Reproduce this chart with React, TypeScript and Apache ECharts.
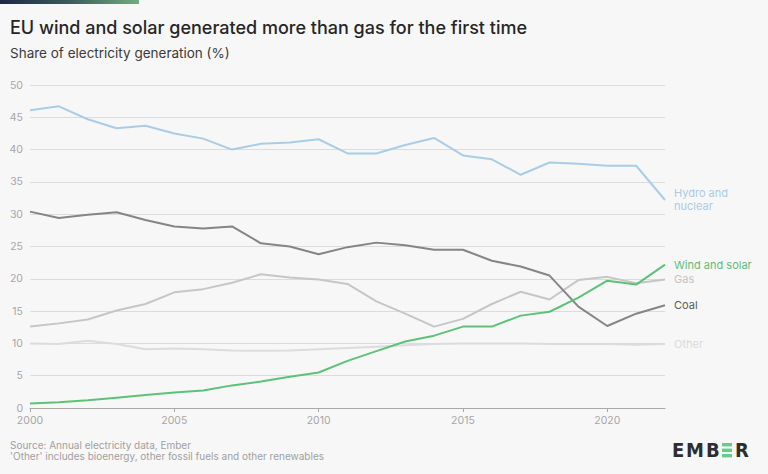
import React, { useEffect, useRef } from "react";
import * as echarts from "echarts";

const years = [
  "2000", "2001", "2002", "2003", "2004", "2005", "2006", "2007", "2008", "2009", "2010",
  "2011", "2012", "2013", "2014", "2015", "2016", "2017", "2018", "2019", "2020", "2021", "2022",
];

const hydroNuclear = [
  46.1, 46.7, 44.7, 43.3, 43.7, 42.5, 41.7, 40.0, 40.9, 41.1, 41.6,
  39.4, 39.4, 40.7, 41.8, 39.1, 38.5, 36.1, 38.0, 37.8, 37.5, 37.5, 32.2,
];
const coal = [
  30.4, 29.4, 29.9, 30.3, 29.1, 28.1, 27.8, 28.1, 25.5, 25.0, 23.8,
  24.9, 25.6, 25.2, 24.5, 24.5, 22.8, 21.9, 20.5, 15.7, 12.7, 14.6, 15.9,
];
const gas = [
  12.6, 13.1, 13.7, 15.1, 16.1, 17.9, 18.4, 19.4, 20.7, 20.2, 19.9,
  19.2, 16.5, 14.6, 12.6, 13.8, 16.1, 18.0, 16.8, 19.8, 20.3, 19.3, 19.9,
];
const other = [
  10.0, 9.9, 10.4, 9.9, 9.1, 9.2, 9.1, 8.9, 8.85, 8.9, 9.1,
  9.3, 9.5, 9.7, 9.9, 10.0, 10.0, 10.0, 9.9, 9.9, 9.9, 9.8, 9.9,
];
const windSolar = [
  0.7, 0.9, 1.2, 1.6, 2.0, 2.4, 2.7, 3.5, 4.1, 4.85, 5.5,
  7.3, 8.8, 10.3, 11.2, 12.6, 12.6, 14.3, 14.9, 17.1, 19.7, 19.1, 22.2,
];

const seriesNames = ["Hydro and\nnuclear", "Coal", "Gas", "Other", "Wind and solar"];
const seriesData = [hydroNuclear, coal, gas, other, windSolar];
const lineColors = ["#a9cde6", "#858585", "#c6c6c6", "#dcdcdc", "#5dc278"];
const labelColors = ["#a9cbe5", "#5a5a5a", "#c4c4c4", "#dadada", "#5bbf75"];

const FONT = "Inter, 'Noto Sans', sans-serif";
const LOGO_FONT = "800 20px 'DejaVu Sans Condensed', 'DejaVu Sans', sans-serif";

export default function App() {
  const ref = useRef<HTMLDivElement>(null);

  useEffect(() => {
    document.body.style.margin = "0";
    const chart = echarts.init(ref.current!, null, { renderer: "svg" });
    const order = [3, 2, 1, 0, 4];
    const logoLetter = (ch: string, x: number) => ({
      type: "text",
      left: x,
      top: 440,
      style: { text: ch, fill: "#2e2e2e", font: LOGO_FONT },
    });
    chart.setOption({
      animation: false,
      backgroundColor: "#f7f7f7",
      textStyle: { fontFamily: FONT },
      grid: { left: 30, right: 103, top: 85, bottom: 66, containLabel: false },
      xAxis: {
        type: "category",
        data: years,
        boundaryGap: false,
        axisLine: { lineStyle: { color: "#a8a8a8", width: 1 } },
        axisTick: { interval: 4, length: 4, lineStyle: { color: "#a8a8a8" } },
        axisLabel: { interval: 4, color: "#a6a6a6", fontSize: 10.5, margin: 7, fontFamily: FONT },
        splitLine: { show: false },
      },
      yAxis: {
        type: "value",
        min: 0,
        max: 50,
        interval: 5,
        axisLine: { show: false },
        axisTick: { show: false },
        axisLabel: { color: "#a6a6a6", fontSize: 10.5, margin: 7, fontFamily: FONT },
        splitLine: { lineStyle: { color: "#dcdcdc", width: 1 } },
      },
      series: order.map((i) => ({
        type: "line",
        name: seriesNames[i],
        data: seriesData[i],
        showSymbol: false,
        symbol: "none",
        z: 2 + order.indexOf(i),
        lineStyle: { color: lineColors[i], width: 2 },
        endLabel: {
          show: true,
          formatter: () => seriesNames[i],
          color: labelColors[i],
          fontSize: 11,
          lineHeight: 13,
          distance: 9,
          fontFamily: FONT,
        },
      })),
      graphic: [
        {
          type: "rect",
          left: 0,
          top: 0,
          shape: { width: 139, height: 4 },
          style: {
            fill: new echarts.graphic.LinearGradient(0, 0, 1, 0, [
              { offset: 0, color: "#1d2744" },
              { offset: 0.5, color: "#3b5c5a" },
              { offset: 1, color: "#72ac7f" },
            ]),
          },
        },
        {
          type: "text",
          left: 10,
          top: 18,
          style: {
            text: "EU wind and solar generated more than gas for the first time",
            fill: "#262626",
            font: `500 18px ${FONT}`,
          },
        },
        {
          type: "text",
          left: 10,
          top: 46,
          style: {
            text: "Share of electricity generation (%)",
            fill: "#3a3a3a",
            font: `400 13.5px ${FONT}`,
          },
        },
        {
          type: "text",
          left: 10,
          top: 439,
          style: {
            text: "Source: Annual electricity data, Ember\n'Other' includes bioenergy, other fossil fuels and other renewables",
            fill: "#a0a0a0",
            font: `400 10px ${FONT}`,
            lineHeight: 11,
          },
        },
        logoLetter("E", 672),
        logoLetter("M", 686),
        logoLetter("B", 706),
        { type: "rect", left: 722, top: 443, shape: { width: 10, height: 3.4 }, style: { fill: "#66cc86" } },
        { type: "rect", left: 722, top: 448.6, shape: { width: 10, height: 3.4 }, style: { fill: "#66cc86" } },
        { type: "rect", left: 722, top: 454, shape: { width: 10, height: 3.4 }, style: { fill: "#66cc86" } },
        logoLetter("R", 735),
      ],
    });
    return () => chart.dispose();
  }, []);

  return (
    <div
      ref={ref}
      style={{ position: "absolute", left: 0, top: 0, width: 768, height: 474, background: "#f7f7f7" }}
    />
  );
}
